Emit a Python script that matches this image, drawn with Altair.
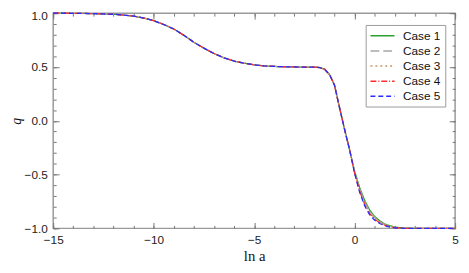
import altair as alt
import pandas as pd

cases = ["Case 1", "Case 2", "Case 3", "Case 4", "Case 5"]
colors = ["#2ca02c", "#a6a6a6", "#c8965f", "#ff2a2a", "#2a2aff"]
dashes = [[1, 0], [9, 4], [2, 3], [6, 2, 1, 2], [5, 3]]

# shared early-time part (ln a, q)
x_common = [-15, -14, -13, -12, -11, -10.5, -10, -9.5, -9, -8.5, -8, -7.5, -7,
            -6.5, -6, -5.5, -5, -4.5, -4, -3.5, -3, -2.5, -2, -1.75, -1.5,
            -1.25, -1, -0.75, -0.5, -0.25]
q_common = [1.0, 0.999, 0.996, 0.99, 0.973, 0.955, 0.93, 0.895, 0.853, 0.795,
            0.73, 0.675, 0.625, 0.585, 0.555, 0.535, 0.52, 0.51, 0.505, 0.502,
            0.5, 0.499, 0.498, 0.495, 0.48, 0.43, 0.33, 0.12, -0.08, -0.27]

# late-time tail, slightly different per case
x_tail = [0, 0.25, 0.5, 0.75, 1, 1.25, 1.5, 1.75, 2, 2.5, 3, 4, 5]
q_tail_1 = [-0.47, -0.62, -0.74, -0.83, -0.89, -0.93, -0.96, -0.975, -0.988, -0.998, -1.0, -1.0, -1.0]
q_tail_2 = [-0.475, -0.632, -0.754, -0.843, -0.9, -0.937, -0.964, -0.979, -0.99, -0.998, -1.0, -1.0, -1.0]
q_tail_3 = [-0.48, -0.642, -0.765, -0.853, -0.908, -0.942, -0.968, -0.982, -0.992, -0.999, -1.0, -1.0, -1.0]
q_tail_4 = [-0.485, -0.653, -0.777, -0.864, -0.916, -0.948, -0.971, -0.985, -0.993, -0.999, -1.0, -1.0, -1.0]
q_tail_5 = [-0.49, -0.665, -0.79, -0.875, -0.925, -0.955, -0.975, -0.988, -0.995, -1.0, -1.0, -1.0, -1.0]
tails = [q_tail_1, q_tail_2, q_tail_3, q_tail_4, q_tail_5]

x_major = [-15, -10, -5, 0, 5]
x_minor = list(range(-15, 6))
y_major = [-1.0, -0.5, 0.0, 0.5, 1.0]
y_minor = [round(-1 + 0.1 * i, 1) for i in range(21)]

rows = []
for ci, c in enumerate(cases):
    for xv, qv in zip(x_common + x_tail, q_common + tails[ci]):
        rows.append({"x": xv, "q": qv, "case": c, "order": ci})
df = pd.DataFrame(rows)

FRAME = "#9a9a9a"
xs = alt.Scale(domain=[-15, 5], nice=False, zero=False)
ys = alt.Scale(domain=[-1, 1], nice=False, zero=False)


def xaxis(orient, values, size, labels=False, title=None):
    kw = dict(orient=orient, values=values, tickSize=alt.ExprRef(str(-size)),
              tickColor="#777", tickWidth=1, domain=False, grid=False,
              labels=labels, title=title)
    if labels:
        kw.update(format="d", labelFont="Liberation Sans", labelFontSize=12,
                  labelColor="#222", labelPadding=12, labelFlush=False)
    if title:
        kw.update(titleFont="Liberation Serif", titleFontSize=15,
                  titleFontWeight="normal", titleColor="#111", titlePadding=4)
    return alt.Axis(**kw)


def yaxis(orient, values, size, labels=False, title=None):
    kw = dict(orient=orient, values=values, tickSize=alt.ExprRef(str(-size)),
              tickColor="#777", tickWidth=1, domain=False, grid=False,
              labels=labels, title=title)
    if labels:
        kw.update(format=".1f", labelFont="Liberation Sans", labelFontSize=12,
                  labelColor="#222", labelPadding=12, labelFlush=False,
                  labelOffset={"condition": {"test": "datum.value === 1", "value": 2},
                               "value": 0})
    if title:
        kw.update(titleFont="Liberation Serif", titleFontSize=14,
                  titleFontWeight="normal", titleFontStyle="italic",
                  titleColor="#111", titlePadding=1)
    return alt.Axis(**kw)


base = alt.Chart(df)

lines = base.mark_line(strokeWidth=1.3).encode(
    x=alt.X("x:Q", scale=xs, axis=xaxis("bottom", x_major, 6, True, "ln a")),
    y=alt.Y("q:Q", scale=ys, axis=yaxis("left", y_major, 6, True, "q")),
    color=alt.Color("case:N", scale=alt.Scale(domain=cases, range=colors),
                    legend=alt.Legend(title=None)),
    strokeDash=alt.StrokeDash("case:N", scale=alt.Scale(domain=cases, range=dashes),
                              legend=alt.Legend(title=None)),
    order="order:Q",
)

def ghost(xa, ya):
    return base.mark_line(opacity=0).encode(
        x=alt.X("x:Q", scale=xs, axis=xa),
        y=alt.Y("q:Q", scale=ys, axis=ya),
        detail="case:N",
    )

g1 = ghost(xaxis("bottom", x_minor, 3), yaxis("left", y_minor, 3))
g2 = ghost(xaxis("top", x_major, 6), yaxis("right", y_major, 6))
g3 = ghost(xaxis("top", x_minor, 3), yaxis("right", y_minor, 3))

chart = alt.layer(g1, g2, g3, lines).resolve_axis(
    x="independent", y="independent"
).properties(
    width=409, height=219,
    autosize=alt.AutoSizeParams(type="none"),
    padding={"left": 46, "top": 3, "right": 6, "bottom": 35},
).configure_view(
    stroke=FRAME, strokeWidth=1.5
).configure_legend(
    orient="none", legendX=318, legendY=12,
    strokeColor=FRAME, fillColor="white", padding=4,
    labelFont="Liberation Sans", labelFontSize=12, labelColor="#111",
    symbolType="M-1,0H3", symbolSize=150, symbolStrokeWidth=1.5,
    rowPadding=2.4, labelOffset=20,
)

chart.save("out.html", embed_options={"renderer": "svg", "actions": False})
